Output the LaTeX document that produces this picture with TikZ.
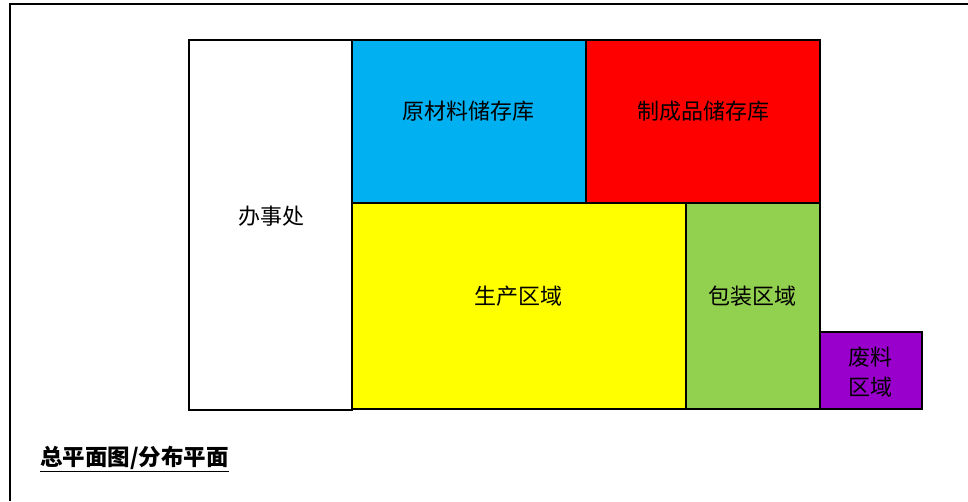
\documentclass[tikz,border=0pt]{standalone}
\usepackage{fontspec}
\setmainfont{Noto Sans CJK SC}
\usepackage{tikz}

\definecolor{rawblue}{HTML}{00B0F0}
\definecolor{goodsred}{HTML}{FF0000}
\definecolor{prodyellow}{HTML}{FFFF00}
\definecolor{packgreen}{HTML}{92D050}
\definecolor{wastepurple}{HTML}{9900CC}

\tikzset{
    zone/.style={draw=black, line width=2.4pt},
    zonetext/.style={font=\fontsize{22}{30}\selectfont, align=center, inner sep=0pt}
}

\begin{document}
\begin{tikzpicture}[x=1pt, y=-1pt]
            \useasboundingbox (0,0) rectangle (968,501);
            \draw[line width=2.6pt] (10,501) -- (10,4) -- (968,4);   % outer frame

            % areas
            \draw[zone, fill=white] (189,40) rectangle (352,410);
            \draw[zone, fill=rawblue] (352,40) rectangle (586,203);
            \draw[zone, fill=goodsred] (586,40) rectangle (820,203);
            \draw[zone, fill=prodyellow] (352,203) rectangle (686,409);
            \draw[zone, fill=packgreen] (686,203) rectangle (820,409);
            \draw[zone, fill=wastepurple] (820,332) rectangle (922,409);

            \node[zonetext] (office) at (271,216) {办事处};
            \node[zonetext] (raw) at (468,111) {原材料储存库};
            \node[zonetext] (goods) at (703,111) {制成品储存库};
            \node[zonetext] (prod) at (518,296) {生产区域};
            \node[zonetext] (pack) at (752,296) {包装区域};
            \node[zonetext] (waste) at (870,372) {废料\\区域};

            \node[anchor=west, inner sep=0pt, font=\fontsize{22.5}{26}\selectfont\bfseries] (title) at (40,459) {\underline{总平面图/分布平面}};
        \end{tikzpicture}
\end{document}
